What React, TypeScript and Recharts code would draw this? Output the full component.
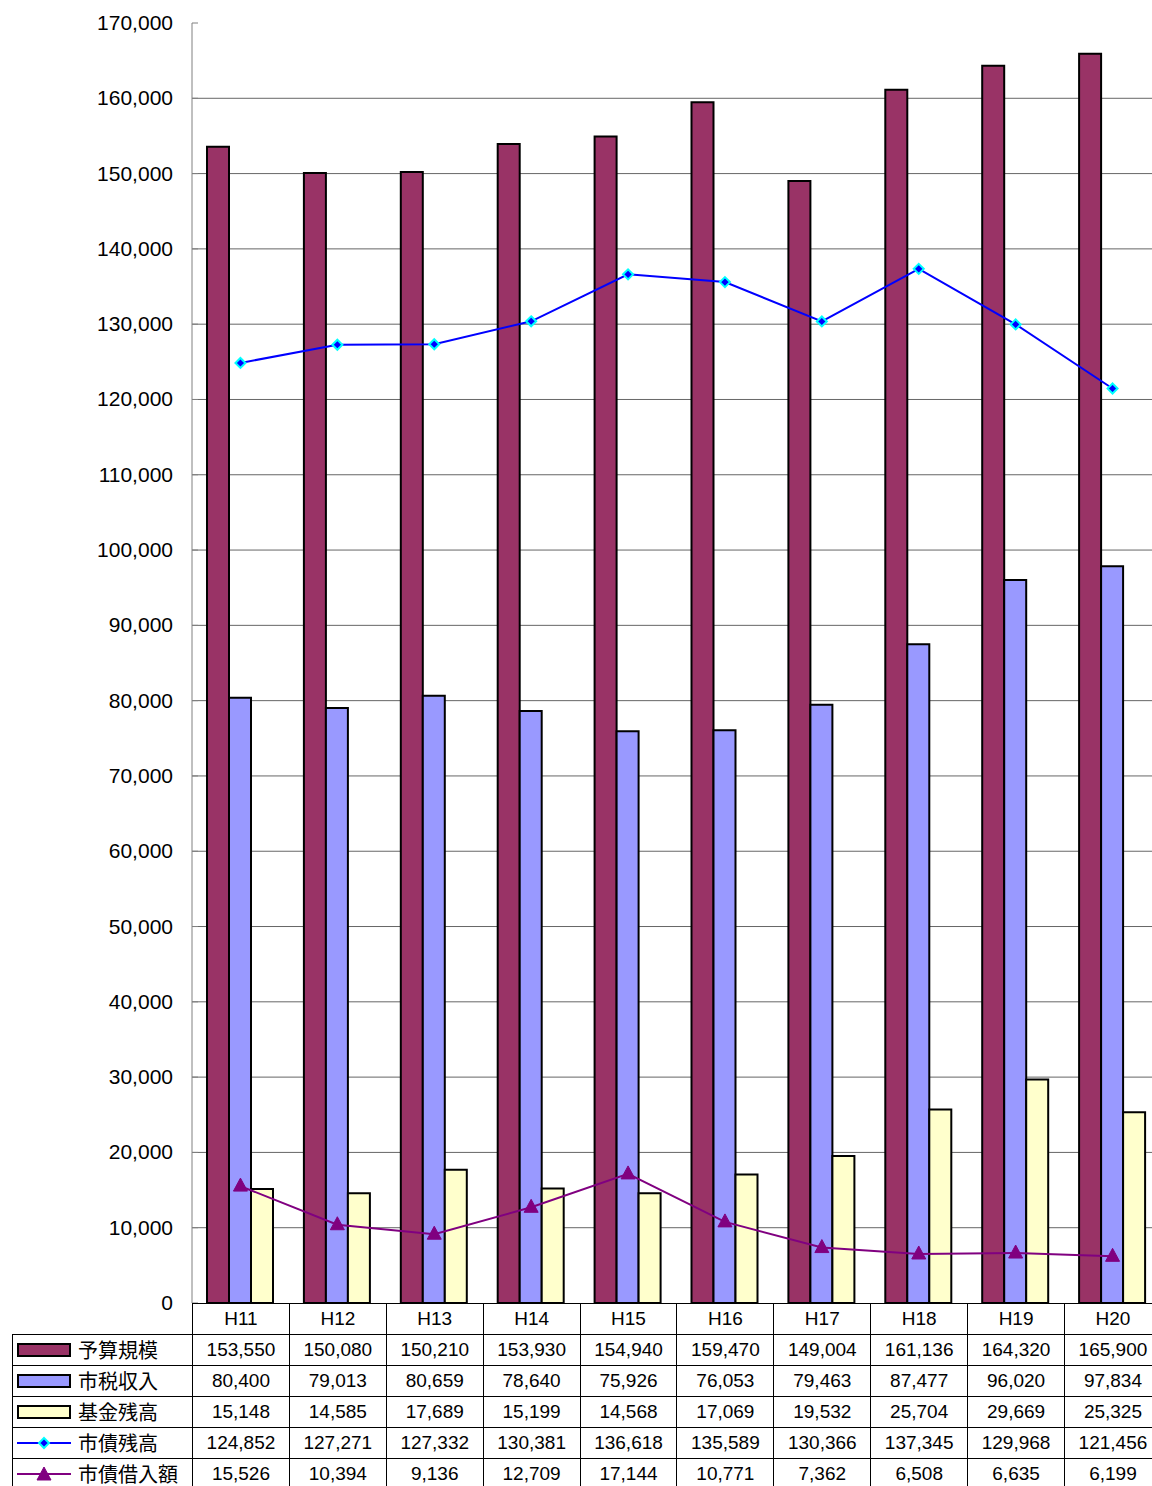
import React from 'react';
import { ComposedChart, Bar, Line, XAxis, YAxis, CartesianGrid } from 'recharts';

const categories = ['H11', 'H12', 'H13', 'H14', 'H15', 'H16', 'H17', 'H18', 'H19', 'H20'];
const yosan = [153550, 150080, 150210, 153930, 154940, 159470, 149004, 161136, 164320, 165900];
const shizei = [80400, 79013, 80659, 78640, 75926, 76053, 79463, 87477, 96020, 97834];
const kikin = [15148, 14585, 17689, 15199, 14568, 17069, 19532, 25704, 29669, 25325];
const saiZan = [124852, 127271, 127332, 130381, 136618, 135589, 130366, 137345, 129968, 121456];
const saiKari = [15526, 10394, 9136, 12709, 17144, 10771, 7362, 6508, 6635, 6199];
const yTicks = [0, 10000, 20000, 30000, 40000, 50000, 60000, 70000, 80000, 90000, 100000, 110000, 120000, 130000, 140000, 150000, 160000, 170000];

const series = [
  { key: 'yosan', name: '予算規模', values: yosan, color: '#993366', type: 'bar' },
  { key: 'shizei', name: '市税収入', values: shizei, color: '#9999FF', type: 'bar' },
  { key: 'kikin', name: '基金残高', values: kikin, color: '#FFFFCC', type: 'bar' },
  { key: 'saiZan', name: '市債残高', values: saiZan, color: '#0000FF', type: 'diamond' },
  { key: 'saiKari', name: '市債借入額', values: saiKari, color: '#800080', type: 'triangle' },
];

const data = categories.map((c, i) => ({
  cat: c,
  yosan: yosan[i],
  shizei: shizei[i],
  kikin: kikin[i],
  saiZan: saiZan[i],
  saiKari: saiKari[i],
}));

const fmt = (v: number) => v.toLocaleString('en-US');
const NUM_FONT = '"Liberation Sans", Arial, sans-serif';
const CJK_FONT = '"Noto Sans CJK JP", sans-serif';

const CAT_W = 96.9;
const AXIS_X = 192;

function YTick(props: any) {
  const { y, payload } = props;
  return (
    <g>
      <line x1={AXIS_X} x2={AXIS_X + 6} y1={y} y2={y} stroke="#808080" />
      <text x={173} y={y} dy={7} textAnchor="end" fontSize={21} fontFamily={NUM_FONT} fill="#000">
        {fmt(payload.value)}
      </text>
    </g>
  );
}

function Diamond(props: any) {
  const { cx, cy } = props;
  if (cx == null || cy == null) return null;
  const s = 5;
  return (
    <polygon
      points={`${cx},${cy - s} ${cx + s},${cy} ${cx},${cy + s} ${cx - s},${cy}`}
      fill="#0000FF"
      stroke="#00FFFF"
      strokeWidth={2}
    />
  );
}

function Triangle(props: any) {
  const { cx, cy } = props;
  if (cx == null || cy == null) return null;
  return (
    <polygon
      points={`${cx},${cy - 8} ${cx + 7},${cy + 5} ${cx - 7},${cy + 5}`}
      fill="#800080"
      stroke="#800080"
      strokeWidth={1}
    />
  );
}

function LegendKey({ s }: { s: typeof series[number] }) {
  if (s.type === 'bar') {
    return (
      <div
        style={{
          width: 50,
          height: 10,
          border: '2px solid #000',
          background: s.color,
          marginRight: 7,
          flexShrink: 0,
        }}
      />
    );
  }
  return (
    <svg width={54} height={18} style={{ marginRight: 7, flexShrink: 0 }}>
      <line x1={0} x2={54} y1={9} y2={9} stroke={s.color} strokeWidth={2} />
      {s.type === 'diamond' ? <Diamond cx={27} cy={9} /> : <Triangle cx={27} cy={10} />}
    </svg>
  );
}

const cell: React.CSSProperties = {
  border: '1px solid #000',
  textAlign: 'center',
  padding: 0,
  fontFamily: NUM_FONT,
  fontSize: 19,
  height: 30,
  overflow: 'hidden',
  whiteSpace: 'nowrap',
};

export default function App() {
  return (
    <div
      style={{
        position: 'absolute',
        left: 0,
        top: 0,
        width: 1152,
        height: 1486,
        overflow: 'hidden',
        background: '#fff',
      }}
    >
      <div style={{ position: 'absolute', left: 0, top: 0 }}>
        <ComposedChart
          width={AXIS_X + CAT_W * 10}
          height={1330}
          data={data}
          margin={{ top: 23, right: 0, left: 0, bottom: 27 }}
          barGap={0}
        >
          <CartesianGrid
            vertical={false}
            stroke="#666"
            horizontalValues={yTicks.slice(1, -1)}
          />
          <XAxis dataKey="cat" hide />
          <YAxis
            width={AXIS_X}
            domain={[0, 170000]}
            ticks={yTicks}
            interval={0}
            tickLine={false}
            axisLine={{ stroke: '#808080' }}
            tick={<YTick />}
          />
          <Bar dataKey="yosan" barSize={22} fill="#993366" stroke="#000" strokeWidth={2} isAnimationActive={false} />
          <Bar dataKey="shizei" barSize={22} fill="#9999FF" stroke="#000" strokeWidth={2} isAnimationActive={false} />
          <Bar dataKey="kikin" barSize={22} fill="#FFFFCC" stroke="#000" strokeWidth={2} isAnimationActive={false} />
          <Line
            dataKey="saiZan"
            stroke="#0000FF"
            strokeWidth={2}
            dot={<Diamond />}
            activeDot={false}
            type="linear"
            isAnimationActive={false}
          />
          <Line
            dataKey="saiKari"
            stroke="#800080"
            strokeWidth={2}
            dot={<Triangle />}
            activeDot={false}
            type="linear"
            isAnimationActive={false}
          />
        </ComposedChart>
      </div>
      <table
        style={{
          position: 'absolute',
          left: 12,
          top: 1303,
          borderCollapse: 'collapse',
          tableLayout: 'fixed',
          width: 180 + CAT_W * 10,
        }}
      >
        <colgroup>
          <col style={{ width: 180 }} />
          {categories.map((c) => (
            <col key={c} style={{ width: CAT_W }} />
          ))}
        </colgroup>
        <tbody>
          <tr>
            <td style={{ ...cell, borderTop: 'none', borderLeft: 'none' }} />
            {categories.map((c) => (
              <td key={c} style={{ ...cell, background: '#fff' }}>
                {c}
              </td>
            ))}
          </tr>
          {series.map((s) => (
            <tr key={s.key} style={{ background: '#fff' }}>
              <td style={{ ...cell, textAlign: 'left' }}>
                <div style={{ display: 'flex', alignItems: 'center', paddingLeft: 4 }}>
                  <LegendKey s={s} />
                  <span style={{ fontFamily: CJK_FONT, fontSize: 20, lineHeight: '30px' }}>{s.name}</span>
                </div>
              </td>
              {s.values.map((v, i) => (
                <td key={i} style={cell}>
                  {fmt(v)}
                </td>
              ))}
            </tr>
          ))}
        </tbody>
      </table>
    </div>
  );
}
